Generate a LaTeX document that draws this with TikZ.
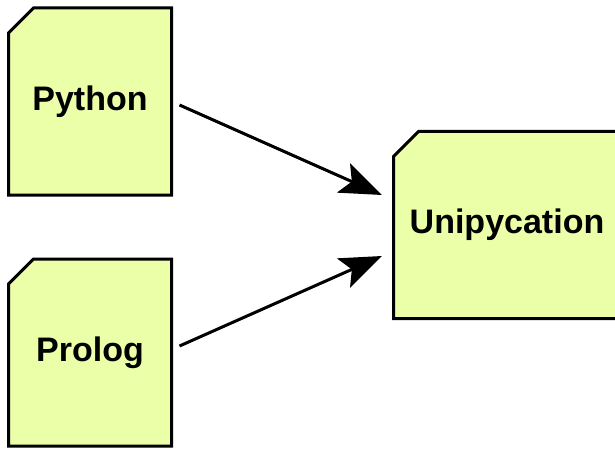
\documentclass[tikz,border=0pt]{standalone}
\usepackage{fontspec}
\setmainfont{Liberation Sans}
\usetikzlibrary{shapes.misc,arrows.meta}
\definecolor{boxfill}{RGB}{235,254,168}
\tikzset{
  lang/.style={chamfered rectangle, chamfered rectangle corners=north west,
    chamfered rectangle xsep=12.5pt, chamfered rectangle ysep=12.5pt,
    draw=black, fill=boxfill, line width=3pt, inner sep=0pt,
    minimum width=163pt, minimum height=187pt,
    font=\fontsize{34}{40}\selectfont\bfseries},
  flow/.style={line width=3pt, -{Stealth[length=42pt, width=32pt, inset=9pt]}}
}
\begin{document}
\begin{tikzpicture}[x=1pt, y=-1pt]
  \useasboundingbox (0,0) rectangle (615,449);
  \begin{scope}
    \clip (0,0) rectangle (615,449);
    \node[lang] (py) at (90,101.5) {Python};
    \node[lang] (pl) at (90,352.5) {Prolog};
    \node[lang, minimum width=227pt] (uni) at (507,225) {Unipycation};
  \end{scope}
  \draw[flow] ([shift={(6.5,3.5)}]py.east) -- ([shift={(-10,-30)}]uni.west);
  \draw[flow] ([shift={(6.5,-6.5)}]pl.east) -- ([shift={(-10,31)}]uni.west);
\end{tikzpicture}
\end{document}
